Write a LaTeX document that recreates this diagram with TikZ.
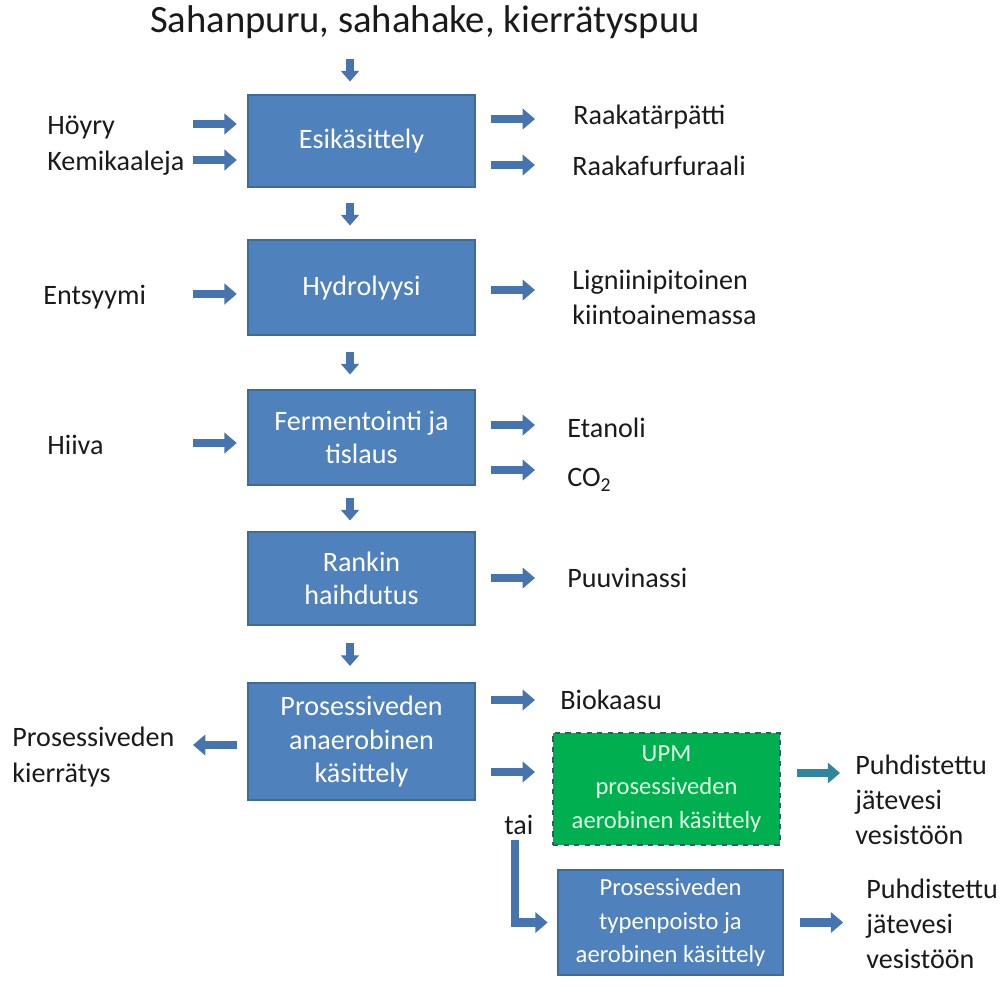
\documentclass[tikz,border=0pt]{standalone}
\usepackage{fontspec}
\setmainfont{Carlito}
\usepackage{tikz}
\usetikzlibrary{calc,positioning,arrows.meta}

\definecolor{boxblue}{HTML}{4F81BD}
\definecolor{boxedge}{HTML}{3E6A9C}
\definecolor{arrowblue}{HTML}{4674AE}
\definecolor{upmgreen}{HTML}{00B050}
\definecolor{upmedge}{HTML}{2D5E6C}
\definecolor{tealarrow}{HTML}{31859C}
\definecolor{txt}{HTML}{1A1A1A}

\tikzset{
  stage/.style={draw=boxedge, line width=0.8pt, fill=boxblue, text=white,
    minimum width=4.54cm, align=center, font=\fontsize{16}{19}\selectfont},
  smallstage/.style={stage, font=\fontsize{14}{19}\selectfont},
  lbl/.style={anchor=west, inner sep=0pt, align=left, text=txt,
    font=\fontsize{16}{20}\selectfont},
  flow/.style={draw=arrowblue, line width=4.6pt,
    -{Triangle[length=7pt,width=11.5pt]}},
  downflow/.style={draw=arrowblue, line width=4.6pt,
    -{Triangle[length=6pt,width=10pt]}}
}

\begin{document}
\begin{tikzpicture}[x=0.02cm, y=-0.02cm]
  \useasboundingbox (0,0) rectangle (1004,998);

  % main process chain
  \node[text=txt, font=\fontsize{22}{26}\selectfont] at (425,22) (title) {Sahanpuru, sahahake, kierrätyspuu};
  \node[stage, minimum height=1.84cm] at (361.5,141) (esi) {Esikäsittely};
  \node[stage, minimum height=1.90cm] at (361.5,287.5) (hyd) {Hydrolyysi};
  \node[stage, minimum height=1.90cm] at (361.5,437.5) (fer) {Fermentointi ja\\tislaus};
  \node[stage, minimum height=1.86cm] at (361.5,578.5) (ran) {Rankin\\haihdutus};
  \node[stage, minimum height=2.34cm] at (361.5,741.5) (ana) {Prosessiveden\\anaerobinen\\käsittely};
  \node[smallstage, fill=upmgreen, draw=upmedge, dashed, line width=1.4pt,
        text=green!12!white, minimum height=2.24cm] at (666.5,789) (upm) {UPM\\prosessiveden\\aerobinen käsittely};
  \node[smallstage, minimum width=4.50cm, minimum height=2.10cm] at (670.5,922.5) (typ) {Prosessiveden\\typenpoisto ja\\aerobinen käsittely};

  % inputs
  \node[lbl] at (47,127) (hoyry) {Höyry};
  \node[lbl] at (47,163) (kemi) {Kemikaaleja};
  \node[lbl] at (43,297) (ents) {Entsyymi};
  \node[lbl] at (47,445) (hiiva) {Hiiva};
  \node[lbl] at (12,757) (kier) {Prosessiveden\\kierrätys};

  % outputs
  \node[lbl] at (573,117) (tar) {Raakatärpätti};
  \node[lbl] at (572,166) (fur) {Raakafurfuraali};
  \node[lbl] at (572,297) (lig) {Ligniinipitoinen\\kiintoainemassa};
  \node[lbl] at (567,428) (eta) {Etanoli};
  \node[lbl] at (567,480) (co) {CO\textsubscript{2}};
  \node[lbl] at (567,578) (puu) {Puuvinassi};
  \node[lbl] at (560,700) (bio) {Biokaasu};
  \node[lbl] at (504,825) (tai) {tai};
  \node[lbl] at (855,800) (puha) {Puhdistettu\\jätevesi\\vesistöön};
  \node[lbl] at (866,924) (puhb) {Puhdistettu\\jätevesi\\vesistöön};

  \coordinate (inx) at (193,0);
  \coordinate (outx) at (535,0);
  \coordinate (downx) at (350,0);

  % down arrows
  \draw[downflow] ($(downx |- title.south)!.5!(downx |- esi.north)+(0,-11)$) -- ++(0,23);
  \foreach \a/\b in {esi/hyd, hyd/fer, fer/ran, ran/ana}
    \draw[downflow] ($(downx |- \a.south)!.5!(downx |- \b.north)+(0,-11)$) -- ++(0,23);

  % side arrows
  \draw[flow, shorten >=6pt] (inx |- 0,124) -- (esi.west |- 0,124);
  \draw[flow, shorten >=6pt] (inx |- 0,160) -- (esi.west |- 0,160);
  \draw[flow, shorten >=6pt] (inx |- 0,294) -- (hyd.west |- 0,294);
  \draw[flow, shorten >=6pt] (inx |- 0,443) -- (fer.west |- 0,443);
  \draw[flow, shorten <=6pt] (ana.west |- 0,745) -- (inx |- 0,745);

  \draw[flow, shorten <=8.5pt] (esi.east |- 0,119) -- (outx |- 0,119);
  \draw[flow, shorten <=8.5pt] (esi.east |- 0,165) -- (outx |- 0,165);
  \draw[flow, shorten <=8.5pt] (hyd.east |- 0,290) -- (outx |- 0,290);
  \draw[flow, shorten <=8.5pt] (fer.east |- 0,425) -- (outx |- 0,425);
  \draw[flow, shorten <=8.5pt] (fer.east |- 0,470) -- (outx |- 0,470);
  \draw[flow, shorten <=8.5pt] (ran.east |- 0,578) -- (outx |- 0,578);
  \draw[flow, shorten <=8.5pt] (ana.east |- 0,700) -- (outx |- 0,700);
  \draw[flow, shorten <=8.5pt] (ana.east |- 0,772) -- (outx |- 0,772);

  \draw[flow, draw=tealarrow, shorten <=9pt, shorten >=8.5pt] (upm.east |- 0,773) -- (puha.west |- 0,773);
  \draw[flow, shorten <=9.5pt, shorten >=13pt] (typ.east) -- (puhb.west |- typ.east);
  \draw[flow, shorten <=3pt, shorten >=5.5pt] (tai.south -| 515,0) |- (typ.west);
\end{tikzpicture}
\end{document}
